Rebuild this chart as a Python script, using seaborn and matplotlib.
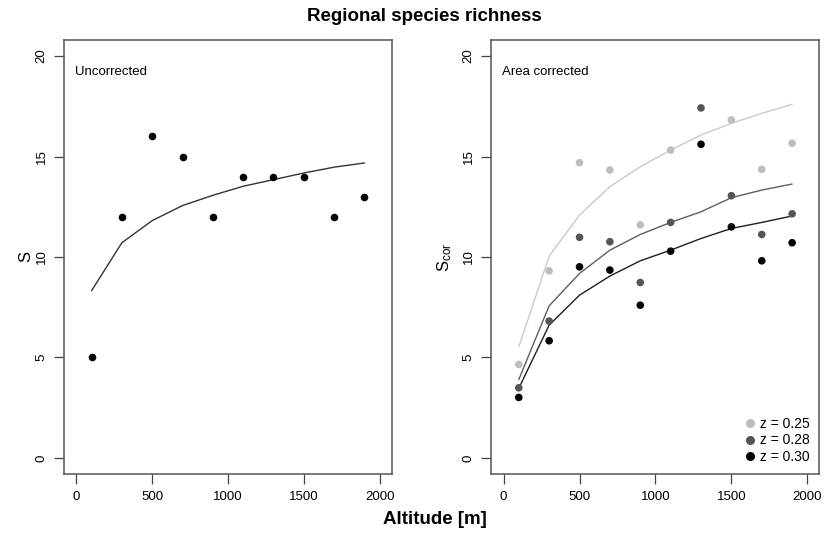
import numpy as np
import pandas as pd
import matplotlib
matplotlib.use("Agg")
import matplotlib.pyplot as plt
from matplotlib.lines import Line2D
import seaborn as sns

# ---- data ----
altitude = [100, 300, 500, 700, 900, 1100, 1300, 1500, 1700, 1900]
S_obs = [5, 12, 16, 15, 12, 14, 14, 14, 12, 13]
S_fit = [8.32, 10.71, 11.81, 12.56, 13.07, 13.52, 13.85, 14.18, 14.47, 14.68]

z_labels = ["z = 0.25", "z = 0.28", "z = 0.30"]
Scor_025 = [4.65, 9.31, 14.69, 14.33, 11.60, 15.32, np.nan, 16.82, 14.36, 15.66]
Scor_028 = [3.49, 6.81, 10.98, 10.76, 8.73, 11.72, 17.42, 13.05, 11.12, 12.15]
Scor_030 = [3.01, 5.83, 9.51, 9.35, 7.60, 10.29, 15.61, 11.50, 9.81, 10.71]
fit_025 = [5.53, 10.04, 12.09, 13.50, 14.49, 15.32, 16.07, 16.65, 17.15, 17.60]
fit_028 = [3.90, 7.57, 9.18, 10.34, 11.12, 11.72, 12.25, 12.95, 13.33, 13.63]
fit_030 = [3.46, 6.61, 8.10, 9.05, 9.81, 10.34, 10.92, 11.42, 11.72, 12.04]

x_ticks = [0, 500, 1000, 1500, 2000]
y_ticks = [0, 5, 10, 15, 20]

sns.set_style("white")
plt.rcParams['font.family'] = ['Liberation Sans', 'DejaVu Sans']
plt.rcParams['mathtext.fontset'] = 'custom'
plt.rcParams['mathtext.rm'] = 'Liberation Sans'
plt.rcParams['text.color'] = 'black'
plt.rcParams['axes.labelcolor'] = 'black'
plt.rcParams['xtick.color'] = 'black'
plt.rcParams['ytick.color'] = 'black'

pt_colors = ["#BDBDBD", "#555555", "#000000"]
ln_colors = ["#CACACA", "#5E5E5E", "#1E1E1E"]

df_left = pd.DataFrame({"alt": altitude, "S": S_obs, "fit": S_fit})
df_pts = pd.DataFrame({
    "alt": altitude * 3,
    "S": Scor_025 + Scor_028 + Scor_030,
    "z": sum([[z] * len(altitude) for z in z_labels], []),
})
df_fit = pd.DataFrame({
    "alt": altitude * 3,
    "S": fit_025 + fit_028 + fit_030,
    "z": sum([[z] * len(altitude) for z in z_labels], []),
})

fig = plt.figure(figsize=(8.24, 5.36), dpi=100)
axL = fig.add_axes([0.078, 0.1157, 0.3974, 0.8097])
axR = fig.add_axes([0.5964, 0.1157, 0.3981, 0.8097])

sns.lineplot(data=df_left, x="alt", y="fit", ax=axL, color="#333333", lw=1.0)
sns.scatterplot(data=df_left, x="alt", y="S", ax=axL, color="black", s=30,
                linewidth=0, zorder=3)

pal_ln = dict(zip(z_labels, ln_colors))
pal_pt = dict(zip(z_labels, pt_colors))
sns.lineplot(data=df_fit, x="alt", y="S", hue="z", palette=pal_ln, ax=axR,
             lw=1.0, legend=False)
sns.scatterplot(data=df_pts, x="alt", y="S", hue="z", palette=pal_pt, ax=axR,
                s=30, linewidth=0, legend=False, zorder=3)

for ax in (axL, axR):
    ax.set_xlim(-80, 2080)
    ax.set_ylim(-0.8, 20.8)
    ax.set_xticks(x_ticks)
    ax.set_yticks(y_ticks)
    ax.set_xticklabels([str(v) for v in x_ticks], fontsize=9.5, color="black")
    ax.set_yticklabels([str(v) for v in y_ticks], fontsize=9.5, color="black",
                       rotation=90, va="center")
    ax.tick_params(direction="out", length=7, width=0.9, color="#444444",
                   pad=5, bottom=True, left=True)
    for sp in ax.spines.values():
        sp.set_visible(True)
        sp.set_color("#555555")
        sp.set_linewidth(1.1)
    ax.set_xlabel("")

axL.set_ylabel("S", fontsize=12, labelpad=2, color="black")
axR.set_ylabel(r"$\mathregular{S_{cor}}$", fontsize=12, labelpad=6,
               color="black")

axL.text(0.033, 0.926, "Uncorrected", transform=axL.transAxes,
         fontsize=9.5, va="center", ha="left", color="black")
axR.text(0.032, 0.926, "Area corrected", transform=axR.transAxes,
         fontsize=9.5, va="center", ha="left", color="black")

handles = [Line2D([], [], marker="o", ls="", color=c, markersize=5.5)
           for c in pt_colors]
leg = axR.legend(handles, z_labels, loc="lower right", frameon=False,
                 fontsize=10, handletextpad=0.2, labelspacing=0.2,
                 borderaxespad=0.3, handlelength=1.0)
for t in leg.get_texts():
    t.set_color("black")

fig.text(0.515, 0.97, "Regional species richness", ha="center", va="center",
         fontsize=13.5, fontweight="bold", color="black")
fig.text(0.528, 0.03, "Altitude [m]", ha="center", va="center",
         fontsize=13.5, fontweight="bold", color="black")

fig.savefig("out.png", dpi=100)
